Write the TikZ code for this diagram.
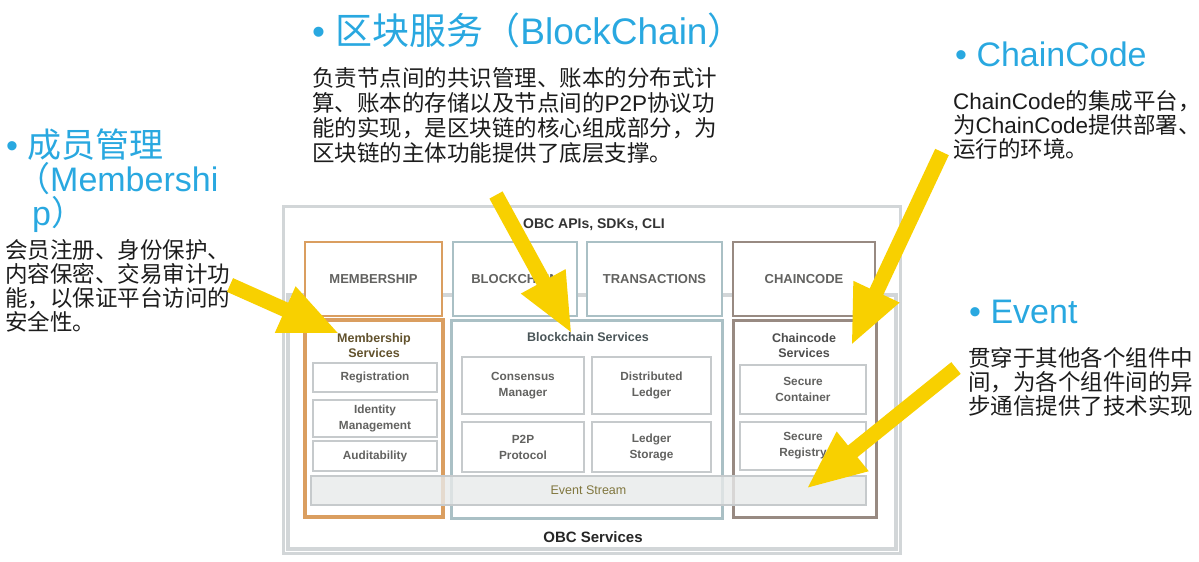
\documentclass[tikz,border=0pt]{standalone}
\usepackage{fontspec}
\setmainfont{Liberation Sans}
\newfontfamily\cjk{Noto Sans CJK SC}
\usepackage{xcolor}
\usetikzlibrary{arrows.meta}
\definecolor{headblue}{RGB}{41,168,224}
\definecolor{memorange}{RGB}{218,158,96}
\definecolor{chainblue}{RGB}{170,192,197}
\definecolor{codebrown}{RGB}{152,138,130}
\definecolor{framegray}{RGB}{210,214,216}
\definecolor{cellgray}{RGB}{198,202,204}
\definecolor{labelgray}{RGB}{98,98,96}
\definecolor{streamolive}{RGB}{128,118,62}
\definecolor{arrowyellow}{RGB}{248,208,0}
\definecolor{notetext}{RGB}{28,28,28}

\begin{document}
\begin{tikzpicture}[x=1pt,y=-1pt,
  toplayer/.style={draw,line width=2.5pt,fill=white,inner sep=0pt,text=labelgray,
    font=\bfseries\fontsize{13}{15}\selectfont},
  column/.style={draw,line width=3pt,fill=white,inner sep=0pt},
  coltitle/.style={align=center,inner sep=0pt,font=\bfseries\fontsize{12.5}{15}\selectfont},
  cell/.style={draw=cellgray,line width=2pt,fill=white,inner sep=0pt,align=center,
    text=labelgray,font=\bfseries\fontsize{11.8}{16}\selectfont},
  heading/.style={anchor=west,inner sep=0pt,text=headblue,font=\fontsize{34}{34}\selectfont},
  note/.style={anchor=north west,inner sep=0pt,align=left,text=notetext,
    font=\cjk\fontsize{22.5}{24}\selectfont},
  bigarrow/.style={draw=arrowyellow,line width=15pt,-{Triangle[length=60pt,width=46pt]}}
]
\useasboundingbox (0,0) rectangle (1199,562);

% frames
\draw[framegray,line width=3pt,fill=white] (283,206) rectangle (900,553);
\draw[framegray,line width=4pt] (288,295) rectangle (896,549);
\node[inner sep=0pt,text=black!80,font=\bfseries\fontsize{14}{17}\selectfont] (apis) at (594,225) {OBC APIs, SDKs, CLI};
\node[inner sep=0pt,text=black!85,font=\bfseries\fontsize{15}{18}\selectfont] (obc) at (593,537) {OBC Services};

% top row
\node[toplayer,draw=memorange,minimum width=137pt,minimum height=74pt] (mship) at (373.5,279) {MEMBERSHIP};
\node[toplayer,draw=chainblue,minimum width=124pt,minimum height=74pt] (bchain) at (515,279) {BLOCKCHAIN};
\node[toplayer,draw=chainblue,minimum width=135pt,minimum height=74pt] (trans) at (654.5,279) {TRANSACTIONS};
\node[toplayer,draw=codebrown,minimum width=142pt,minimum height=74pt] (ccode) at (804,279) {CHAINCODE};

% service columns
\node[column,draw=memorange,line width=3.5pt,minimum width=138pt,minimum height=197pt] (msvc) at (374,418.5) {};
\node[column,draw=chainblue,minimum width=271pt,minimum height=198pt] (bsvc) at (586.5,419) {};
\node[column,draw=codebrown,minimum width=143pt,minimum height=197pt] (csvc) at (804.5,418.5) {};
\node[coltitle,text={rgb,255:red,98;green,82;blue,45}] (msvct) at (374,345.5) {Membership\\Services};
\node[coltitle,text={rgb,255:red,74;green,85;blue,88}] (bsvct) at (588,337.5) {Blockchain Services};
\node[coltitle,text={rgb,255:red,78;green,78;blue,78}] (csvct) at (804,345.5) {Chaincode\\Services};

\node[cell,minimum width=124pt,minimum height=29pt] (reg) at (375,377.5) {Registration};
\node[cell,minimum width=124pt,minimum height=37pt] (idm) at (375,418.5) {Identity\\Management};
\node[cell,minimum width=124pt,minimum height=30pt] (aud) at (375,456) {Auditability};

\node[cell,minimum width=122pt,minimum height=57pt] (cons) at (523,385.5) {Consensus\\Manager};
\node[cell,minimum width=119pt,minimum height=57pt] (dled) at (651.5,385.5) {Distributed\\Ledger};
\node[cell,minimum width=122pt,minimum height=50pt] (p2p) at (523,447) {P2P\\Protocol};
\node[cell,minimum width=119pt,minimum height=50pt] (lsto) at (651.5,447) {Ledger\\Storage};

\node[cell,minimum width=126pt,minimum height=49pt] (scon) at (803,389.5) {Secure\\Container};
\node[cell,minimum width=126pt,minimum height=48pt] (sreg) at (803,446) {Secure\\Registry};

\node[cell,fill={rgb,255:red,232;green,234;blue,234},fill opacity=0.8,text opacity=1,
  text=streamolive,font=\fontsize{12.5}{14}\selectfont,minimum width=555pt,minimum height=29pt] (evt) at (588.5,490.5) {Event Stream};

% notes
\node[heading,font=\fontsize{37}{37}\selectfont] (bchead) at (312,30) {• {\cjk 区块服务（}BlockChain{\cjk ）}};
\node[note,font=\cjk\fontsize{22.5}{25}\selectfont] (bcnote) at (312,67) {负责节点间的共识管理、账本的分布式计\\算、账本的存储以及节点间的{\rmfamily P2P}协议功\\能的实现，是区块链的核心组成部分，为\\区块链的主体功能提供了底层支撑。};

\node[heading] (cchead) at (955,54) {• ChainCode};
\node[note] (ccnote) at (953,90) {{\rmfamily ChainCode}的集成平台，\\为{\rmfamily ChainCode}提供部署、\\运行的环境。};

\node[heading,anchor=north west,align=left,font=\fontsize{34}{34}\selectfont] (mhead) at (6,129) {• {\cjk 成员管理}\\\hspace*{10pt}{\cjk （}Membershi\\\hspace*{26pt}p{\cjk ）}};
\node[note] (mnote) at (5,239) {会员注册、身份保护、\\内容保密、交易审计功\\能，以保证平台访问的\\安全性。};

\node[heading] (evhead) at (969,312) {• Event};
\node[note] (evnote) at (968,347) {贯穿于其他各个组件中\\间，为各个组件间的异\\步通信提供了技术实现};

% arrows
\coordinate (memtail) at (230,285);
\coordinate (memtip) at (340,334);
\coordinate (bctail) at (496,195);
\coordinate (bctip) at (572,334);
\coordinate (cctail) at (942,152);
\coordinate (cctip) at (851,346);
\coordinate (evtail) at (956,368);
\coordinate (evtip) at (806,489);
\draw[bigarrow] (memtail) -- (memtip);
\draw[bigarrow] (bctail) -- (bctip);
\draw[bigarrow] (cctail) -- (cctip);
\draw[bigarrow] (evtail) -- (evtip);
\end{tikzpicture}
\end{document}
